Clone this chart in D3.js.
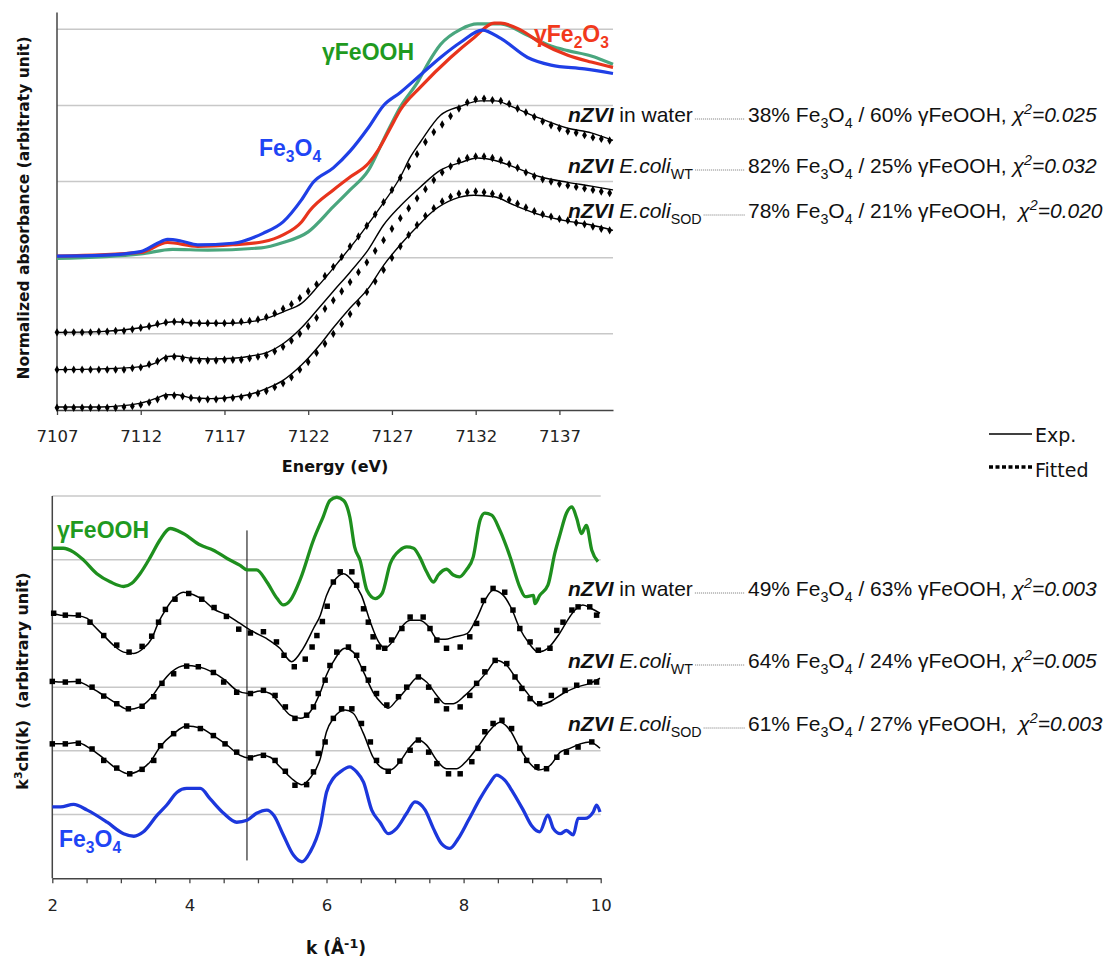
<!DOCTYPE html>
<html><head><meta charset="utf-8">
<script src="https://cdn.jsdelivr.net/npm/d3@7"></script>
<style>body{margin:0;background:#fff;} svg{display:block;}</style>
</head><body>
<svg id="chart" width="1106" height="958"></svg>
<script>
// ---------------- DATA ----------------
// XANES (top panel): energy (eV), displayed absorbance (arbitrary units, stacked)
const energyTicks = [7107, 7112, 7117, 7122, 7127, 7132, 7137];
const xanesFe3O4 = [[7107,2.02],[7109.6,2.03],[7112,2.08],[7113,2.19],[7113.6,2.24],[7114.4,2.22],[7115.4,2.17],[7117.5,2.19],[7119.3,2.32],[7120.5,2.47],[7121.6,2.76],[7122.3,2.99],[7123.5,3.18],[7124.5,3.40],[7125.6,3.71],[7126.5,4.00],[7127.5,4.17],[7128.7,4.40],[7129.9,4.63],[7131.1,4.83],[7132.4,4.99],[7133.5,4.88],[7135.1,4.63],[7136.5,4.53],[7138.5,4.48],[7140.2,4.42]];
const xanesFe2O3 = [[7107,2.02],[7112,2.07],[7113.6,2.20],[7115.4,2.15],[7117.5,2.17],[7119.3,2.21],[7120.5,2.30],[7121.6,2.47],[7122.1,2.62],[7123.5,2.89],[7124.5,3.06],[7125.6,3.24],[7126.2,3.42],[7126.9,3.70],[7127.5,3.94],[7128.7,4.24],[7130.5,4.63],[7131.9,4.89],[7133.1,5.08],[7133.5,5.08],[7134.7,4.99],[7135.9,4.82],[7137.5,4.66],[7138.9,4.57],[7140.2,4.50]];
const xanesFeOOH = [[7107,1.99],[7112,2.05],[7113.9,2.11],[7116,2.10],[7119.2,2.13],[7120.5,2.20],[7122,2.34],[7123.5,2.67],[7124.5,2.89],[7125.6,3.15],[7126.5,3.55],[7127.5,3.98],[7128.6,4.33],[7129.2,4.57],[7129.9,4.80],[7131.1,5.00],[7132.1,5.07],[7133.5,5.07],[7135.1,4.92],[7136.5,4.78],[7137.5,4.72],[7138.9,4.65],[7140.2,4.54]];
const xanesWaterExp = [[7107,1.02],[7109.6,1.03],[7112,1.08],[7113,1.12],[7113.9,1.16],[7115.6,1.14],[7117.5,1.14],[7119.6,1.21],[7120.5,1.29],[7121.6,1.40],[7122.6,1.63],[7123.9,1.97],[7125.1,2.30],[7126.3,2.66],[7127.5,3.06],[7128.1,3.32],[7128.7,3.52],[7129.9,3.87],[7131.1,3.99],[7132.3,4.06],[7133.2,4.06],[7134.1,3.99],[7135.5,3.86],[7137.5,3.70],[7138.9,3.64],[7140.2,3.54]];
const xanesWtExp = [[7107,0.53],[7109.6,0.54],[7112,0.57],[7113,0.63],[7113.5,0.70],[7114.1,0.71],[7115,0.68],[7116.2,0.67],[7117.5,0.68],[7118.6,0.71],[7119.6,0.76],[7120.5,0.87],[7121.6,1.08],[7122.6,1.33],[7123.5,1.56],[7124.5,1.81],[7125.6,2.11],[7126.5,2.43],[7127.5,2.68],[7128.7,2.93],[7129.9,3.15],[7131.1,3.25],[7132.1,3.31],[7133.1,3.28],[7134.3,3.19],[7135.9,3.06],[7137.5,2.99],[7138.9,2.94],[7140.2,2.89]];
const xanesSodExp = [[7107,0.04],[7109.6,0.04],[7112,0.09],[7113,0.16],[7113.5,0.20],[7114.2,0.20],[7115,0.16],[7116.2,0.15],[7117.5,0.17],[7118.6,0.21],[7119.6,0.29],[7120.5,0.39],[7121.6,0.59],[7122.6,0.83],[7123.5,1.08],[7124.5,1.34],[7125.6,1.60],[7126.5,1.90],[7127.5,2.17],[7128.6,2.43],[7129.5,2.62],[7130.7,2.77],[7131.9,2.82],[7133.1,2.80],[7134.3,2.69],[7135.9,2.56],[7137.5,2.48],[7138.9,2.43],[7140.2,2.36]];
const fitEnergy = [7107,7107.5,7108,7108.5,7109,7109.5,7110,7110.5,7111,7111.5,7112,7112.5,7113,7113.5,7114,7114.5,7115,7115.5,7116,7116.5,7117,7117.5,7118,7118.5,7119,7119.5,7120,7120.5,7121,7121.5,7122,7122.5,7123,7123.5,7124,7124.5,7125,7125.5,7126,7126.5,7127,7127.5,7128,7128.5,7129,7129.5,7130,7130.5,7131,7131.5,7132,7132.5,7133,7133.5,7134,7134.5,7135,7135.5,7136,7136.5,7137,7137.5,7138,7138.5,7139,7139.5,7140];
const xanesWaterFit = [1.02,1.02,1.02,1.02,1.02,1.03,1.03,1.04,1.04,1.06,1.08,1.10,1.13,1.15,1.16,1.16,1.14,1.14,1.14,1.14,1.14,1.15,1.16,1.17,1.19,1.22,1.27,1.33,1.39,1.47,1.56,1.65,1.76,1.88,2.01,2.15,2.28,2.42,2.57,2.73,2.89,3.05,3.20,3.36,3.52,3.65,3.75,3.86,3.96,4.04,4.08,4.09,4.07,4.06,4.02,3.96,3.91,3.85,3.79,3.74,3.70,3.66,3.64,3.61,3.58,3.56,3.54];
const xanesWtFit = [0.53,0.53,0.53,0.53,0.53,0.53,0.53,0.53,0.53,0.55,0.56,0.60,0.64,0.68,0.70,0.68,0.66,0.65,0.65,0.65,0.66,0.66,0.66,0.68,0.70,0.72,0.77,0.83,0.91,1.00,1.10,1.21,1.33,1.44,1.56,1.68,1.81,1.94,2.09,2.23,2.38,2.52,2.65,2.78,2.90,3.02,3.12,3.20,3.27,3.31,3.33,3.33,3.31,3.28,3.23,3.18,3.12,3.07,3.03,3.00,2.97,2.95,2.93,2.91,2.89,2.87,2.85];
const xanesSodFit = [0.03,0.03,0.03,0.03,0.03,0.03,0.03,0.03,0.04,0.05,0.07,0.10,0.14,0.18,0.19,0.18,0.16,0.14,0.14,0.14,0.15,0.16,0.17,0.19,0.22,0.25,0.30,0.35,0.43,0.53,0.63,0.75,0.87,1.00,1.13,1.26,1.40,1.55,1.69,1.84,2.00,2.15,2.30,2.43,2.55,2.65,2.74,2.80,2.84,2.86,2.87,2.86,2.84,2.81,2.76,2.71,2.66,2.61,2.57,2.54,2.51,2.49,2.46,2.44,2.41,2.38,2.36];

// EXAFS (bottom panel): k (1/Å), k3chi(k) stacked (arbitrary units)
const kTicks = [2, 4, 6, 8, 10];
const kMinorTicks = [2,2.5,3,3.5,4,4.5,5,5.5,6,6.5,7,7.5,8,8.5,9,9.5,10];
const exafsFeOOH = [[2.0,5.18],[2.16,5.18],[2.31,5.12],[2.46,4.99],[2.65,4.78],[2.85,4.65],[3.04,4.58],[3.16,4.63],[3.28,4.78],[3.43,5.04],[3.57,5.31],[3.72,5.49],[3.91,5.41],[4.16,5.23],[4.35,5.15],[4.55,5.02],[4.74,4.91],[4.84,4.84],[4.98,4.84],[5.13,4.65],[5.28,4.39],[5.37,4.29],[5.47,4.36],[5.62,4.70],[5.81,5.31],[5.95,5.67],[6.05,5.93],[6.15,5.98],[6.25,5.93],[6.34,5.67],[6.41,5.20],[6.49,4.99],[6.59,4.52],[6.71,4.39],[6.81,4.47],[6.93,4.94],[7.07,5.15],[7.17,5.20],[7.27,5.18],[7.36,5.04],[7.46,4.81],[7.56,4.65],[7.63,4.76],[7.75,4.85],[7.85,4.76],[7.94,4.73],[8.04,4.84],[8.14,5.04],[8.24,5.62],[8.31,5.73],[8.41,5.70],[8.53,5.46],[8.68,5.04],[8.82,4.57],[8.90,4.42],[9.02,4.44],[9.04,4.31],[9.11,4.44],[9.23,4.60],[9.33,5.10],[9.41,5.41],[9.50,5.73],[9.58,5.83],[9.65,5.65],[9.72,5.41],[9.79,5.54],[9.87,5.15],[9.96,4.97]];
const exafsFe3O4 = [[2.0,1.12],[2.12,1.12],[2.31,1.16],[2.51,1.07],[2.80,0.88],[3.04,0.70],[3.19,0.66],[3.33,0.73],[3.53,0.99],[3.67,1.15],[3.82,1.35],[3.96,1.41],[4.16,1.41],[4.30,1.25],[4.50,1.02],[4.69,0.88],[4.84,0.91],[4.98,1.02],[5.13,1.07],[5.23,0.99],[5.37,0.68],[5.52,0.36],[5.64,0.26],[5.76,0.41],[5.91,0.83],[6.00,1.35],[6.10,1.57],[6.20,1.67],[6.34,1.75],[6.44,1.67],[6.54,1.51],[6.66,1.07],[6.78,0.88],[6.90,0.70],[7.02,0.78],[7.17,1.02],[7.29,1.20],[7.44,1.07],[7.56,0.78],[7.68,0.54],[7.80,0.47],[7.92,0.62],[8.07,0.91],[8.24,1.25],[8.38,1.49],[8.48,1.62],[8.60,1.54],[8.72,1.35],[8.87,1.07],[8.99,0.83],[9.11,0.73],[9.23,0.99],[9.31,0.78],[9.41,0.70],[9.50,0.75],[9.60,0.68],[9.67,0.94],[9.77,0.94],[9.89,1.04],[9.94,1.15],[9.99,1.04]];
const exafsWaterExp = [[2.00,4.16],[2.12,4.13],[2.36,4.12],[2.51,4.08],[2.60,3.97],[2.75,3.81],[2.89,3.66],[3.04,3.55],[3.19,3.53],[3.33,3.61],[3.45,3.76],[3.55,4.02],[3.65,4.21],[3.77,4.39],[3.91,4.49],[4.06,4.45],[4.21,4.36],[4.35,4.23],[4.55,4.13],[4.74,4.00],[4.93,3.87],[5.13,3.76],[5.32,3.61],[5.49,3.40],[5.66,3.61],[5.81,3.92],[5.91,4.13],[6.00,4.44],[6.10,4.65],[6.25,4.78],[6.39,4.65],[6.51,4.44],[6.64,4.02],[6.76,3.71],[6.85,3.61],[6.98,3.74],[7.10,3.95],[7.22,4.05],[7.36,4.05],[7.49,3.95],[7.61,3.76],[7.73,3.75],[7.87,3.79],[8.05,3.84],[8.19,4.08],[8.31,4.36],[8.43,4.52],[8.58,4.44],[8.70,4.23],[8.82,3.92],[8.94,3.71],[9.09,3.55],[9.23,3.61],[9.38,3.81],[9.50,4.02],[9.60,4.18],[9.74,4.29],[9.87,4.23],[9.99,4.16]];
const exafsWaterFit = [[2.02,4.16],[2.19,4.13],[2.38,4.13],[2.55,4.02],[2.75,3.81],[2.94,3.66],[3.12,3.55],[3.31,3.64],[3.45,3.80],[3.55,4.02],[3.65,4.22],[3.79,4.38],[3.99,4.47],[4.18,4.38],[4.36,4.25],[4.54,4.11],[4.72,3.91],[4.89,3.85],[5.08,3.87],[5.27,3.71],[5.38,3.50],[5.53,3.32],[5.69,3.44],[5.79,3.63],[5.86,3.81],[5.94,4.03],[6.01,4.27],[6.10,4.65],[6.20,4.81],[6.37,4.81],[6.44,4.60],[6.54,4.23],[6.61,4.02],[6.68,3.79],[6.76,3.63],[6.85,3.61],[6.95,3.74],[7.10,3.92],[7.22,4.10],[7.41,4.10],[7.51,3.92],[7.61,3.74],[7.75,3.61],[7.95,3.63],[8.09,3.79],[8.19,4.00],[8.29,4.36],[8.43,4.55],[8.60,4.49],[8.72,4.21],[8.82,3.92],[8.97,3.71],[9.09,3.58],[9.26,3.61],[9.36,3.89],[9.45,4.02],[9.58,4.21],[9.67,4.26],[9.84,4.26],[9.94,4.13]];
const exafsWtExp = [[2.00,3.09],[2.16,3.08],[2.36,3.09],[2.55,3.00],[2.75,2.87],[2.94,2.74],[3.11,2.65],[3.28,2.69],[3.43,2.82],[3.57,3.03],[3.74,3.24],[3.94,3.34],[4.13,3.32],[4.33,3.24],[4.52,3.11],[4.69,2.95],[4.86,2.90],[5.03,2.94],[5.18,2.90],[5.32,2.74],[5.47,2.56],[5.62,2.51],[5.76,2.61],[5.91,2.92],[6.00,3.19],[6.10,3.40],[6.27,3.61],[6.39,3.55],[6.54,3.24],[6.68,2.92],[6.81,2.74],[6.90,2.67],[7.02,2.79],[7.19,3.00],[7.34,3.16],[7.46,3.08],[7.61,2.87],[7.73,2.74],[7.85,2.74],[8.02,2.87],[8.17,3.03],[8.34,3.24],[8.48,3.42],[8.63,3.34],[8.77,3.13],[8.92,2.92],[9.09,2.72],[9.26,2.77],[9.45,2.90],[9.65,3.00],[9.84,3.06],[9.99,3.14]];
const exafsWtFit = [[2.00,3.09],[2.19,3.08],[2.38,3.09],[2.58,3.00],[2.75,2.86],[2.94,2.74],[3.11,2.66],[3.31,2.70],[3.48,2.85],[3.60,3.06],[3.77,3.21],[3.96,3.33],[4.13,3.32],[4.35,3.23],[4.50,3.08],[4.69,2.92],[4.89,2.90],[5.08,2.95],[5.25,2.87],[5.40,2.69],[5.54,2.51],[5.71,2.56],[5.81,2.69],[5.88,2.90],[5.98,3.11],[6.05,3.34],[6.15,3.55],[6.32,3.63],[6.44,3.50],[6.54,3.29],[6.61,3.11],[6.73,2.90],[6.88,2.72],[7.05,2.85],[7.17,3.00],[7.34,3.16],[7.49,3.00],[7.61,2.79],[7.75,2.66],[7.95,2.69],[8.09,2.87],[8.19,3.06],[8.31,3.24],[8.46,3.42],[8.63,3.37],[8.75,3.16],[8.85,2.98],[8.97,2.82],[9.11,2.74],[9.28,2.87],[9.48,2.95],[9.65,3.03],[9.84,3.08],[9.94,3.08]];
const exafsSodExp = [[2.00,2.11],[2.16,2.11],[2.36,2.13],[2.55,2.04],[2.75,1.88],[2.94,1.72],[3.11,1.64],[3.28,1.70],[3.43,1.83],[3.57,2.06],[3.77,2.27],[3.96,2.39],[4.16,2.36],[4.35,2.24],[4.55,2.09],[4.74,1.93],[4.86,1.89],[5.03,1.94],[5.18,1.90],[5.32,1.75],[5.52,1.54],[5.64,1.47],[5.76,1.57],[5.91,1.88],[6.00,2.30],[6.10,2.51],[6.27,2.64],[6.39,2.59],[6.54,2.27],[6.68,1.90],[6.83,1.72],[6.93,1.70],[7.07,1.83],[7.22,2.06],[7.34,2.17],[7.46,2.09],[7.61,1.85],[7.75,1.72],[7.90,1.72],[8.05,1.85],[8.24,2.11],[8.38,2.32],[8.53,2.45],[8.68,2.32],[8.82,2.04],[8.97,1.80],[9.09,1.70],[9.26,1.77],[9.41,1.98],[9.55,2.04],[9.70,2.11],[9.84,2.14],[9.99,2.04]];
const exafsSodFit = [[2.00,2.11],[2.19,2.11],[2.38,2.12],[2.58,2.03],[2.75,1.85],[2.94,1.73],[3.13,1.64],[3.31,1.71],[3.48,1.85],[3.58,2.08],[3.77,2.27],[3.96,2.39],[4.16,2.35],[4.35,2.24],[4.52,2.11],[4.69,1.98],[4.89,1.89],[5.08,1.93],[5.25,1.85],[5.40,1.68],[5.54,1.46],[5.71,1.47],[5.81,1.67],[5.88,1.96],[5.98,2.14],[6.10,2.51],[6.22,2.66],[6.37,2.66],[6.51,2.43],[6.64,2.14],[6.73,1.85],[6.90,1.68],[7.07,1.84],[7.22,2.01],[7.34,2.17],[7.49,1.98],[7.61,1.80],[7.78,1.64],[7.95,1.64],[8.12,1.83],[8.21,2.04],[8.31,2.30],[8.43,2.43],[8.56,2.48],[8.70,2.35],[8.82,2.04],[8.92,1.85],[9.07,1.75],[9.21,1.72],[9.36,1.90],[9.50,1.98],[9.67,2.06],[9.87,2.14]];
const markerK = 4.84;
const markerSpan = [0.28, 5.46];

// Fit results
const xanesFe3O4Pct = [38, 82, 78];
const xanesFeOOHPct = [60, 25, 21];
const xanesChi2 = ["0.025", "0.032", "0.020"];
const exafsFe3O4Pct = [49, 64, 61];
const exafsFeOOHPct = [63, 24, 27];
const exafsChi2 = ["0.003", "0.005", "0.003"];

// ---------------- DRAWING ----------------
(function () {
const svg = d3.select("#chart");
const SANS = "'Liberation Sans', Arial, sans-serif";
const DV = "'DejaVu Sans', Verdana, sans-serif";
const C = {blue:"#1f3fe6", red:"#e8341c", teal:"#4aa67e", green:"#1e8f1e",
  blueTxt:"#1f45f5", redTxt:"#f2391c", greenTxt:"#1f9a1f", grid:"#c8c8c8", axis:"#444"};

function rich(parent, x, y, segs, o) {
  const size = o.size;
  const t = parent.append("text").attr("x", x).attr("y", y)
    .attr("font-family", o.family).attr("font-size", size)
    .attr("fill", o.fill || "#000").attr("font-weight", o.weight || "normal")
    .attr("text-anchor", o.anchor || "start").style("white-space", "pre");
  let shift = 0;
  const sc = o.scriptScale || 0.68;
  segs.forEach(s => {
    const ts = t.append("tspan").text(s.t);
    const target = s.sub ? size * 0.28 : s.sup ? -size * 0.38 : 0;
    if (target - shift !== 0) ts.attr("dy", target - shift);
    shift = target;
    if (s.sub || s.sup) ts.attr("font-size", size * sc);
    if (s.b) ts.attr("font-weight", "bold");
    if (s.i) ts.attr("font-style", "italic");
  });
  return t;
}

// ----- Top panel -----
const xT = d3.scaleLinear().domain([7107, 7140.2]).range([57, 613]);
const yT = d3.scaleLinear().domain([0, 5]).range([410, 29.3]);
const gTop = svg.append("g");
gTop.selectAll(".gt").data([1,2,3,4,5]).join("line")
  .attr("x1", xT(7107)).attr("x2", xT(7140.2)).attr("y1", d => yT(d)).attr("y2", d => yT(d))
  .attr("stroke", C.grid).attr("stroke-width", 1.5);
gTop.append("line").attr("x1", xT(7107)).attr("x2", xT(7107)).attr("y1", yT(5.22)).attr("y2", yT(0))
  .attr("stroke", C.axis).attr("stroke-width", 1.5);
const axT = gTop.append("g").attr("transform", `translate(0,${yT(0)})`)
  .call(d3.axisBottom(xT).tickValues(energyTicks).tickFormat(d3.format("d")).tickSize(5).tickSizeOuter(0).tickPadding(15));
axT.select(".domain").attr("stroke", C.axis).attr("stroke-width", 1.5);
axT.selectAll(".tick line").attr("stroke", C.axis).attr("stroke-width", 1.3);
axT.selectAll(".tick text").attr("font-family", DV).attr("font-size", 16.5).attr("fill", "#222");

const lineT = d3.line().x(d => xT(d[0])).y(d => yT(d[1])).curve(d3.curveMonotoneX);
[[xanesFeOOH, C.teal], [xanesFe2O3, C.red], [xanesFe3O4, C.blue]].forEach(([d, c]) => {
  gTop.append("path").datum(d).attr("d", lineT).attr("fill", "none").attr("stroke", c)
    .attr("stroke-width", 3.2).attr("stroke-linejoin", "round");
});
const diamond = d3.symbol().type(d3.symbolDiamond).size(20);
[[xanesWaterExp, xanesWaterFit], [xanesWtExp, xanesWtFit], [xanesSodExp, xanesSodFit]].forEach(([e, f]) => {
  gTop.append("path").datum(e).attr("d", lineT).attr("fill", "none").attr("stroke", "#000").attr("stroke-width", 1.4);
  gTop.append("g").selectAll("path").data(f).join("path")
    .attr("transform", (v, i) => `translate(${xT(fitEnergy[i])},${yT(v)})`)
    .attr("d", diamond).attr("fill", "#000");
});
rich(gTop, 322, 60, [{t:"γFeOOH"}], {size:23, family:SANS, weight:"bold", fill:C.greenTxt});
rich(gTop, 534, 42, [{t:"γFe"},{t:"2",sub:1},{t:"O"},{t:"3",sub:1}], {size:23, family:SANS, weight:"bold", fill:C.redTxt});
rich(gTop, 259, 156, [{t:"Fe"},{t:"3",sub:1},{t:"O"},{t:"4",sub:1}], {size:23, family:SANS, weight:"bold", fill:C.blueTxt});

gTop.append("text").attr("transform", "translate(29,208) rotate(-90)").attr("text-anchor", "middle")
  .attr("font-family", DV).attr("font-weight", "bold").attr("font-size", 15.5).attr("fill", "#111")
  .text("Normalized absorbance (arbitraty unit)");
gTop.append("text").attr("x", 335).attr("y", 472).attr("text-anchor", "middle")
  .attr("font-family", DV).attr("font-weight", "bold").attr("font-size", 16).attr("fill", "#111")
  .text("Energy (eV)");

// ----- Bottom panel -----
const xB = d3.scaleLinear().domain([2, 10]).range([52.3, 600.7]);
const yB = d3.scaleLinear().domain([0, 6]).range([878.3, 496]);
const gBot = svg.append("g");
gBot.selectAll(".gb").data([1,2,3,4,5,6]).join("line")
  .attr("x1", xB(2)).attr("x2", xB(10)).attr("y1", d => yB(d)).attr("y2", d => yB(d))
  .attr("stroke", C.grid).attr("stroke-width", 1.5);
gBot.append("line").attr("x1", xB(2)).attr("x2", xB(2)).attr("y1", yB(6)).attr("y2", yB(0))
  .attr("stroke", C.axis).attr("stroke-width", 1.5);
const axB = gBot.append("g").attr("transform", `translate(0,${yB(0)})`)
  .call(d3.axisBottom(xB).tickValues(kMinorTicks).tickFormat(d => kTicks.includes(d) ? d : "")
    .tickSize(5).tickSizeOuter(0).tickPadding(16));
axB.select(".domain").attr("stroke", C.axis).attr("stroke-width", 1.5);
axB.selectAll(".tick line").attr("stroke", C.axis).attr("stroke-width", 1.3);
axB.selectAll(".tick text").attr("font-family", DV).attr("font-size", 16.5).attr("fill", "#222");

const lineB = d3.line().x(d => xB(d[0])).y(d => yB(d[1])).curve(d3.curveMonotoneX);
gBot.append("line").attr("x1", xB(markerK)).attr("x2", xB(markerK))
  .attr("y1", yB(markerSpan[1])).attr("y2", yB(markerSpan[0])).attr("stroke", "#000").attr("stroke-width", 1);
gBot.append("path").datum(exafsFeOOH).attr("d", lineB).attr("fill", "none").attr("stroke", C.green).attr("stroke-width", 3.3).attr("stroke-linejoin", "round");
gBot.append("path").datum(exafsFe3O4).attr("d", lineB).attr("fill", "none").attr("stroke", "#1c37dc").attr("stroke-width", 3.3).attr("stroke-linejoin", "round");
const square = d3.symbol().type(d3.symbolSquare).size(30);
[[exafsWaterExp, exafsWaterFit], [exafsWtExp, exafsWtFit], [exafsSodExp, exafsSodFit]].forEach(([e, f]) => {
  gBot.append("path").datum(e).attr("d", lineB).attr("fill", "none").attr("stroke", "#000").attr("stroke-width", 1.5);
  gBot.append("g").selectAll("path").data(f).join("path")
    .attr("transform", d => `translate(${xB(d[0])},${yB(d[1])})`).attr("d", square).attr("fill", "#000");
});
rich(gBot, 57, 538, [{t:"γFeOOH"}], {size:23, family:SANS, weight:"bold", fill:C.greenTxt});
rich(gBot, 59, 847, [{t:"Fe"},{t:"3",sub:1},{t:"O"},{t:"4",sub:1}], {size:23, family:SANS, weight:"bold", fill:C.blueTxt});

const yLab = gBot.append("g").attr("transform", "translate(28,681) rotate(-90)");
rich(yLab, 0, 0, [{t:"k"},{t:"3",sup:1},{t:"chi(k)  (arbitrary unit)"}], {size:16, family:DV, weight:"bold", anchor:"middle", fill:"#111"});
rich(gBot, 336, 954, [{t:"k (Å"},{t:"-1",sup:1},{t:")"}], {size:17, family:DV, weight:"bold", anchor:"middle", fill:"#111", scriptScale:0.75});

// ----- Annotations -----
const sampleSegs = [
  [{t:"nZVI", b:1, i:1}, {t:" in water"}],
  [{t:"nZVI", b:1, i:1}, {t:" "}, {t:"E.coli", i:1}, {t:"WT", sub:1}],
  [{t:"nZVI", b:1, i:1}, {t:" "}, {t:"E.coli", i:1}, {t:"SOD", sub:1}]
];
function fitSegs(a, b, chi, idx) {
  return [{t:`${a}% Fe`},{t:"3",sub:1},{t:"O"},{t:"4",sub:1},{t:` / ${b}% γFeOOH,${idx === 2 ? "  " : " "}`},
    {t:"χ", i:1},{t:"2", sup:1, i:1},{t:"=" + chi, i:1}];
}
function annotate(baselines, p1, p2, chi) {
  baselines.forEach((yb, i) => {
    const lbl = rich(svg, 568, yb, sampleSegs[i], {size:21, family:SANS, fill:"#111"});
    const bb = lbl.node().getBBox();
    const xEnd = bb.x + bb.width + 2;
    svg.append("line").attr("x1", xEnd).attr("x2", 745).attr("y1", yb - 3).attr("y2", yb - 3)
      .attr("stroke", "#777").attr("stroke-width", 1).attr("stroke-dasharray", "1,1");
    rich(svg, 748, yb, fitSegs(p1[i], p2[i], chi[i], i), {size:21, family:SANS, fill:"#111"});
  });
}
annotate([122, 173, 218], xanesFe3O4Pct, xanesFeOOHPct, xanesChi2);
annotate([596, 668, 731], exafsFe3O4Pct, exafsFeOOHPct, exafsChi2);

// ----- Legend -----
svg.append("line").attr("x1", 989).attr("x2", 1032).attr("y1", 434).attr("y2", 434).attr("stroke", "#000").attr("stroke-width", 1.3);
svg.append("line").attr("x1", 989).attr("x2", 1032).attr("y1", 467).attr("y2", 467).attr("stroke", "#000").attr("stroke-width", 3.5).attr("stroke-dasharray", "4,2.5");
svg.append("text").attr("x", 1035).attr("y", 442).attr("font-family", DV).attr("font-size", 19).attr("fill", "#111").text("Exp.");
svg.append("text").attr("x", 1035).attr("y", 477).attr("font-family", DV).attr("font-size", 19).attr("fill", "#111").text("Fitted");
})();
</script>
</body></html>
